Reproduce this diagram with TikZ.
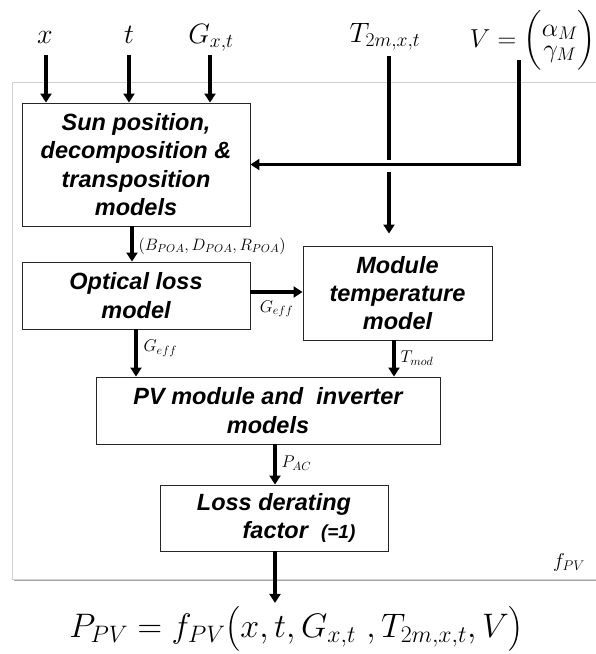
\RequirePackage{fix-cm}
\documentclass[tikz,border=0pt]{standalone}
\usepackage{fontspec}
\setsansfont{Liberation Sans}
\usepackage{amsmath}
\usetikzlibrary{arrows.meta}
\begin{document}
\begin{tikzpicture}[x=1pt,y=-1pt,
  box/.style={draw=black!85, line width=0.9pt, fill=white, align=center, inner sep=0pt,
    font=\sffamily\bfseries\itshape\fontsize{23.5}{28.3}\selectfont},
  arr/.style={line width=3.2pt, -{Triangle[length=9pt,width=11pt]}},
  lab/.style={font=\fontsize{17}{17}\selectfont, inner sep=1pt},
  inlab/.style={font=\fontsize{28}{33}\selectfont, inner sep=0pt, anchor=base}]
\useasboundingbox (0,0) rectangle (596,654);
% frame with shadow
\fill[black!35] (14,84) rectangle (602,581);
\draw[fill=white, draw=black!18, line width=1pt] (12.5,82) rectangle (600,579);
% boxes
\node[box, minimum width=228pt, minimum height=123pt] (sun) at (136,164.5)
  {Sun position,\\ decomposition \&\\ transposition\\ models};
\node[box, minimum width=228pt, minimum height=67pt] (opt) at (136,295.5)
  {Optical loss\\ model};
\node[box, minimum width=189pt, minimum height=94pt] (mod) at (397.5,293)
  {Module\\ temperature\\ model};
\node[box, minimum width=344pt, minimum height=67pt] (pv) at (268,410.5)
  {PV module and\ \ inverter\\ models};
\node[box, minimum width=228pt, minimum height=66pt] (loss) at (274,518)
  {Loss derating\\ \hspace*{50pt}factor\ \ {\fontsize{19}{19}\selectfont(=1)}};
% input labels
\node[inlab] (lx) at (45,43) {$x$};
\node[inlab] (lt) at (129,43) {$t$};
\node[inlab] (lg) at (211,43) {$G_{x,t}$};
\node[inlab] (lT) at (385,42) {$T_{2m,x,t}$};
\node[inlab, font=\fontsize{26}{30}\selectfont] (lV) at (533,47) {$V=\left(\begin{array}{@{}c@{}}\alpha_M\\[-9pt]\gamma_M\end{array}\right)$};
\node[font=\fontsize{20}{20}\selectfont, anchor=base, inner sep=0pt] (fpv) at (569,567) {$f_{PV}$};
\node[font=\fontsize{34}{34}\selectfont, inner sep=0pt, anchor=base] (form) at (296.5,637)
  {$P_{PV}=f_{PV}\bigl(x,t,G_{x,t}\ ,T_{2m,x,t},V\bigr)$};
% connector start points
\coordinate (ax) at (46,55);
\coordinate (at) at (129,55);
\coordinate (ag) at (210,55);
\coordinate (aT) at (389,56);
\coordinate (aV) at (519,60);
% connectors
\draw[arr] (ax) -- (ax |- sun.north);
\draw[arr] (at) -- (at |- sun.north);
\draw[arr] (ag) -- (ag |- sun.north);
\draw[arr, shorten >=12pt] (aT) -- (aT |- mod.north);
\fill[white] (383,159.5) rectangle (395,171.5);
\draw[arr] (aV) |- (sun.east);
\draw[arr] ([xshift=-4pt]sun.south) -- ([xshift=-4pt]sun.south |- opt.north)
  node[lab, anchor=base west, pos=0.5, xshift=4pt, yshift=-6pt, font=\fontsize{16.5}{16.5}\selectfont] {$(B_{POA},D_{POA},R_{POA})$};
\draw[arr] ([yshift=3.5pt]opt.east) -- ([yshift=3.5pt]opt.east -| mod.west)
  node[lab, anchor=base, midway, yshift=-20pt] {$G_{eff}$};
\draw[arr] ([xshift=0pt]opt.south) -- ([xshift=0pt]opt.south |- pv.north)
  node[lab, anchor=base west, pos=0.3, xshift=5pt, yshift=-8pt] {$G_{eff}$};
\draw[arr] ([xshift=-3.5pt]mod.south) -- ([xshift=-3.5pt]mod.south |- pv.north)
  node[lab, anchor=base west, midway, xshift=4pt, yshift=-4pt] {$T_{mod}$};
\draw[arr] ([xshift=7pt]pv.south) -- ([xshift=7pt]pv.south |- loss.north)
  node[lab, anchor=base west, midway, xshift=4pt, yshift=-3pt] {$P_{AC}$};
\draw[arr] ([xshift=1pt]loss.south) -- ([xshift=1pt, yshift=3pt]loss.south |- form.north);
\end{tikzpicture}
\end{document}
